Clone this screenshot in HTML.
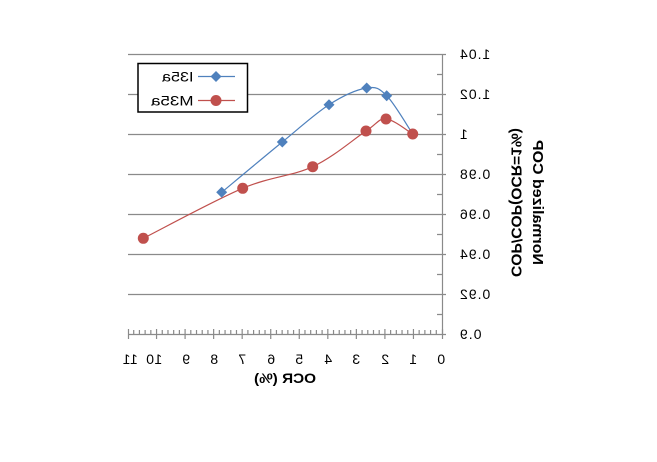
<!DOCTYPE html>
<html><head><meta charset="utf-8"><style>
html,body{margin:0;padding:0;background:#fff;}
svg{display:block;}
text{font-family:"Liberation Sans",sans-serif;fill:#000;}
</style></head><body>
<svg width="657" height="462" viewBox="0 0 657 462" xmlns="http://www.w3.org/2000/svg">
<rect width="657" height="462" fill="#fff"/>
<!-- gridlines -->
<g stroke="#8a8a8a" stroke-width="1.2">
<path d="M128 54.5H446M128 94.5H446M128 134.5H446M128 174.5H446M128 214.5H446M128 254.5H446M128 294.5H446"/>
</g>
<!-- axes -->
<g stroke="#8a8a8a" stroke-width="1.2" fill="none">
<path d="M442.5 54V334.5"/>
<path d="M128 334.5H446"/>
<path d="M437 74.5H442M437 114.5H442M437 154.5H442M437 194.5H442M437 234.5H442M437 274.5H442M437 314.5H442"/>
<path d="M442.5 329V339M413.45 329V339M384.91 329V339M356.36 329V339M327.82 329V339M299.27 329V339M270.73 329V339M242.18 329V339M213.64 329V339M185.09 329V339M156.55 329V339M128.5 329V339"/>
<path d="M436.29 330v4M430.58 330v4M424.87 330v4M419.16 330v4M407.75 330v4M402.04 330v4M396.33 330v4M390.62 330v4M379.2 330v4M373.49 330v4M367.78 330v4M362.07 330v4M350.66 330v4M344.95 330v4M339.24 330v4M333.53 330v4M322.11 330v4M316.4 330v4M310.69 330v4M304.98 330v4M293.57 330v4M287.86 330v4M282.15 330v4M276.44 330v4M265.02 330v4M259.31 330v4M253.6 330v4M247.89 330v4M236.48 330v4M230.77 330v4M225.06 330v4M219.35 330v4M207.93 330v4M202.22 330v4M196.51 330v4M190.8 330v4M179.39 330v4M173.68 330v4M167.97 330v4M162.26 330v4M150.84 330v4M145.13 330v4M139.42 330v4M133.71 330v4"/>
</g>
<!-- y tick labels (mirrored) -->
<g font-size="14" text-anchor="end" letter-spacing="1">
<text transform="translate(459,59) scale(-1,1)">1.04</text>
<text transform="translate(459,99) scale(-1,1)">1.02</text>
<text transform="translate(459,139) scale(-1,1)">1</text>
<text transform="translate(459,179) scale(-1,1)">0.98</text>
<text transform="translate(459,219) scale(-1,1)">0.96</text>
<text transform="translate(459,259) scale(-1,1)">0.94</text>
<text transform="translate(459,299) scale(-1,1)">0.92</text>
<text transform="translate(459,339) scale(-1,1)">0.9</text>
</g>
<!-- x tick labels -->
<g font-size="14" text-anchor="middle" letter-spacing="0.5">
<text transform="translate(441,364) scale(-1,1)">0</text>
<text transform="translate(413,364) scale(-1,1)">1</text>
<text transform="translate(385,364) scale(-1,1)">2</text>
<text transform="translate(356,364) scale(-1,1)">3</text>
<text transform="translate(328,364) scale(-1,1)">4</text>
<text transform="translate(299,364) scale(-1,1)">5</text>
<text transform="translate(271,364) scale(-1,1)">6</text>
<text transform="translate(242,364) scale(-1,1)">7</text>
<text transform="translate(214,364) scale(-1,1)">8</text>
<text transform="translate(186,364) scale(-1,1)">9</text>
<text transform="translate(154,364) scale(-1,1)">10</text>
<text transform="translate(130,364) scale(-1,1)">11</text>
</g>
<!-- x title -->
<text transform="translate(285,383) scale(-1,1)" font-size="14" font-weight="bold" text-anchor="middle" textLength="62" lengthAdjust="spacingAndGlyphs">OCR (%)</text>
<!-- y titles -->
<text transform="translate(533,202.5) scale(-1,1) rotate(-90)" font-size="15" font-weight="bold" text-anchor="middle" textLength="125" lengthAdjust="spacingAndGlyphs">Normalized COP</text>
<text transform="translate(511.5,202.5) scale(-1,1) rotate(-90)" font-size="15" font-weight="bold" text-anchor="middle" textLength="149" lengthAdjust="spacingAndGlyphs">COP/COP(OCR=1%)</text>
<!-- series lines -->
<path d="M221.7 192.3C231.8 183.9 264.4 156.6 282.3 142C300.2 127.4 314.9 113.7 329 104.7C343.1 95.7 357.1 89.5 366.7 88C376.3 86.5 379 88 386.7 95.7C394.4 103.4 408.4 127.6 412.7 134" fill="none" stroke="#4F81BD" stroke-width="1.2"/>
<path d="M143.3 238.3C159.9 230 214.5 200.2 242.7 188.3C270.9 176.4 292.1 176.3 312.7 166.7C333.3 157.2 353.8 139 366 131C378.2 123.1 378.2 118.5 386 119C393.8 119.5 408.2 131.5 412.7 134" fill="none" stroke="#C0504D" stroke-width="1.2"/>
<!-- blue markers -->
<g fill="#4F81BD">
<path d="M221.7 186.8L227.2 192.3L221.7 197.8L216.2 192.3Z"/>
<path d="M282.3 136.5L287.8 142L282.3 147.5L276.8 142Z"/>
<path d="M329 99.2L334.5 104.7L329 110.2L323.5 104.7Z"/>
<path d="M366.7 82.5L372.2 88L366.7 93.5L361.2 88Z"/>
<path d="M386.7 90.2L392.2 95.7L386.7 101.2L381.2 95.7Z"/>
<path d="M412.7 128.5L418.2 134L412.7 139.5L407.2 134Z"/>
</g>
<!-- red markers -->
<g fill="#C0504D">
<circle cx="143.3" cy="238.3" r="5.5"/>
<circle cx="242.7" cy="188.3" r="5.5"/>
<circle cx="312.7" cy="166.7" r="5.5"/>
<circle cx="366" cy="131" r="5.5"/>
<circle cx="386" cy="119" r="5.5"/>
<circle cx="412.7" cy="134" r="5.5"/>
</g>
<!-- legend -->
<rect x="138" y="63.5" width="109.5" height="48.5" fill="#fff" stroke="#000" stroke-width="1.5"/>
<path d="M198 76.5H235" stroke="#4F81BD" stroke-width="1.2"/>
<path d="M216 71L221.5 76.5L216 82L210.5 76.5Z" fill="#4F81BD"/>
<path d="M198 100.5H235" stroke="#C0504D" stroke-width="1.2"/>
<circle cx="216" cy="100.5" r="5.5" fill="#C0504D"/>
<text transform="translate(193.5,81.5) scale(-1,1)" font-size="14" textLength="31.5" lengthAdjust="spacingAndGlyphs">I35a</text>
<text transform="translate(193.5,105.5) scale(-1,1)" font-size="14" textLength="42.5" lengthAdjust="spacingAndGlyphs">M35a</text>
</svg>
</body></html>
